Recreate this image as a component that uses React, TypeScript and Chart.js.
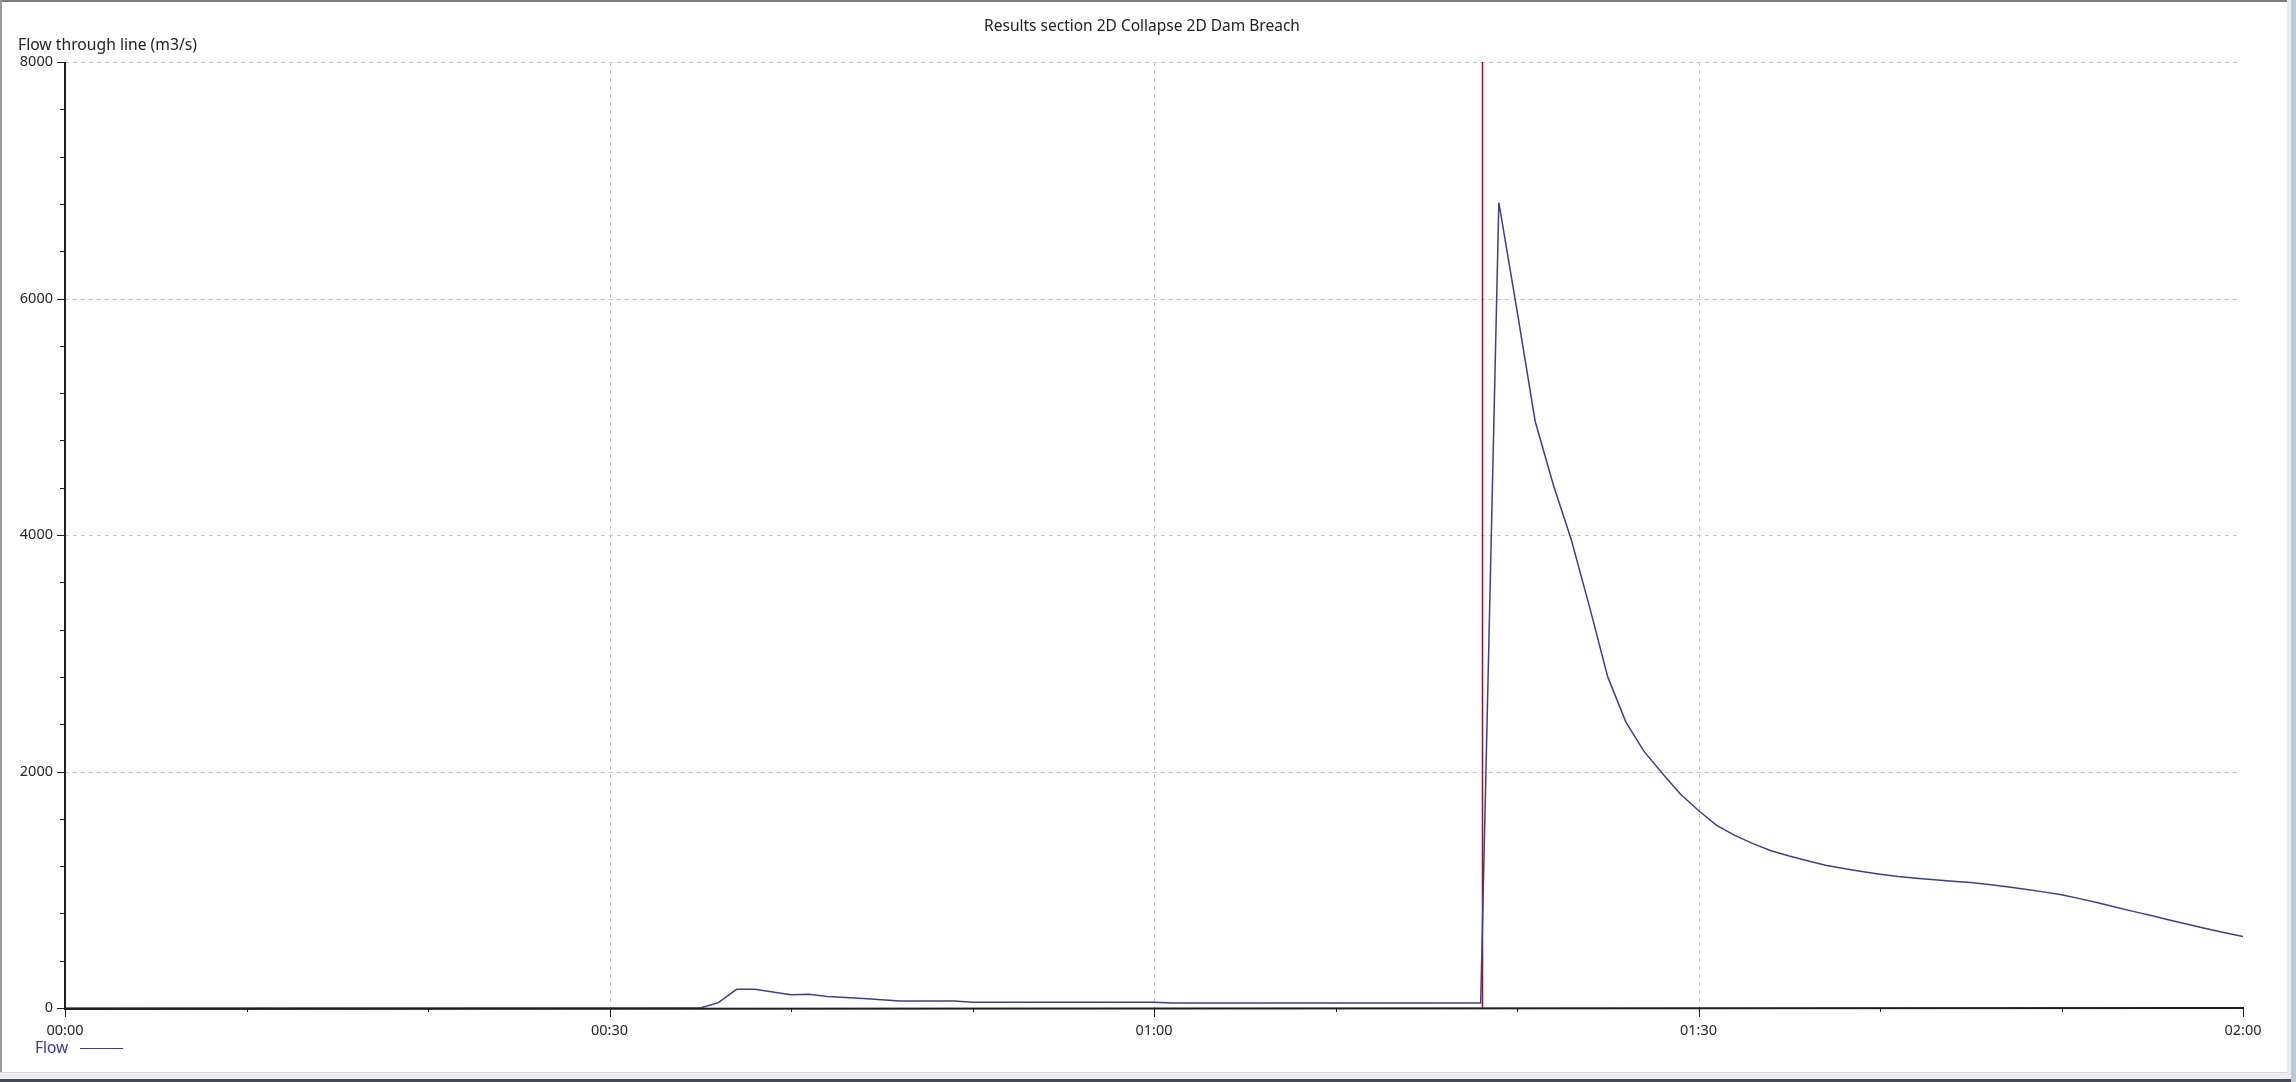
import React, { useEffect, useRef } from "react";
import { Chart, registerables } from "chart.js";

Chart.register(...registerables);

const TITLE = "Results section 2D Collapse 2D Dam Breach";
const Y_TITLE = "Flow through line (m3/s)";
const SERIES_NAME = "Flow";

// time in minutes since start
const timeMinutes = [
  0, 35, 36, 37, 38, 40, 41, 42, 44, 46, 49, 50, 60, 61, 78,
  79, 80, 81, 82, 83, 84, 85, 86, 87, 88, 89, 90,
  91, 92, 93, 94, 95, 96, 97, 98, 99, 100,
  101, 102, 103, 104, 105, 106, 107, 108, 109, 110,
  111, 112, 113, 114, 115, 116, 117, 118, 119, 120,
];
const flowValues = [
  0, 0, 45, 158, 158, 112, 116, 98, 80, 59, 59, 48, 48, 42, 42,
  6811, 5900, 4962, 4425, 3956, 3390, 2800, 2418, 2170, 1985, 1810, 1670,
  1545, 1460, 1390, 1330, 1285, 1245, 1208, 1180, 1155, 1132,
  1112, 1098, 1085, 1072, 1062, 1045, 1025, 1005, 982, 957,
  925, 890, 852, 815, 780, 742, 706, 670, 636, 604,
];
const markerTime = [78.1];

const yMajorTicks = [0, 2000, 4000, 6000, 8000];
const yMinorStep = 400;
const xMajorTicks = [0, 30, 60, 90, 120];
const xTickLabels = ["00:00", "00:30", "01:00", "01:30", "02:00"];
const xMinorStep = 10;

const X_MIN = 0;
const X_MAX = 120;
const Y_MIN = 0;
const Y_MAX = 8000;

const FONT = '"Noto Sans", "Open Sans", sans-serif';
const LINE_COLOR = "#40407f";
const MARKER_COLOR = "#841a35";

const overlayPlugin = {
  id: "overlay",
  beforeDatasetsDraw(chart: any) {
    const ctx = chart.ctx;
    const xs = chart.scales.x;
    const ys = chart.scales.y;
    const area = chart.chartArea;
    ctx.save();
    ctx.strokeStyle = "#c9c9c9";
    ctx.lineWidth = 1;
    ctx.setLineDash([4, 4]);
    yMajorTicks.forEach((v) => {
      if (v === Y_MIN) return;
      const y = Math.round(ys.getPixelForValue(v)) + 0.5;
      ctx.beginPath();
      ctx.moveTo(area.left, y);
      ctx.lineTo(area.right - 5, y);
      ctx.stroke();
    });
    xMajorTicks.forEach((v) => {
      if (v === X_MIN || v === X_MAX) return;
      const x = Math.round(xs.getPixelForValue(v)) + 0.5;
      ctx.beginPath();
      ctx.moveTo(x, area.top);
      ctx.lineTo(x, area.bottom);
      ctx.stroke();
    });
    ctx.restore();
  },
  afterDatasetsDraw(chart: any) {
    const ctx = chart.ctx;
    const xs = chart.scales.x;
    const ys = chart.scales.y;
    ctx.save();
    ctx.setLineDash([]);
    ctx.strokeStyle = "#1e1e1e";
    ctx.lineWidth = 2;
    // axes
    const x0 = Math.round(xs.getPixelForValue(X_MIN));
    const y0 = Math.round(ys.getPixelForValue(Y_MIN));
    ctx.beginPath();
    ctx.moveTo(x0, Math.round(ys.getPixelForValue(Y_MAX)));
    ctx.lineTo(x0, y0 + 1);
    ctx.lineTo(Math.round(xs.getPixelForValue(X_MAX)) + 1, y0);
    ctx.stroke();

    ctx.lineWidth = 1;
    // y ticks
    for (let v = Y_MIN; v <= Y_MAX; v += yMinorStep) {
      const major = yMajorTicks.includes(v);
      const y = Math.round(ys.getPixelForValue(v)) + 0.5;
      ctx.beginPath();
      ctx.moveTo(x0 - (major ? 8 : 5), y);
      ctx.lineTo(x0, y);
      ctx.stroke();
    }
    // x ticks
    for (let v = X_MIN; v <= X_MAX; v += xMinorStep) {
      const major = xMajorTicks.includes(v);
      const x = Math.round(xs.getPixelForValue(v)) + 0.5;
      ctx.beginPath();
      ctx.moveTo(x, y0);
      ctx.lineTo(x, y0 + (major ? 9 : 4));
      ctx.stroke();
    }

    // labels
    ctx.fillStyle = "#262626";
    ctx.font = `14.5px ${FONT}`;
    ctx.textBaseline = "middle";
    ctx.textAlign = "right";
    yMajorTicks.forEach((v) => {
      ctx.fillText(String(v), x0 - 12, ys.getPixelForValue(v));
    });
    ctx.textAlign = "center";
    xMajorTicks.forEach((v, i) => {
      ctx.fillText(xTickLabels[i], xs.getPixelForValue(v), y0 + 23);
    });

    // title
    ctx.font = `15.5px ${FONT}`;
    ctx.fillStyle = "#222";
    ctx.textAlign = "center";
    ctx.fillText(TITLE, 1142, 27);

    // y title
    ctx.font = `15.7px ${FONT}`;
    ctx.textAlign = "left";
    ctx.fillText(Y_TITLE, 18, 46);

    // legend
    ctx.fillStyle = "#3a3a86";
    ctx.font = `15.5px ${FONT}`;
    ctx.fillText(SERIES_NAME, 35, 1049);
    ctx.strokeStyle = LINE_COLOR;
    ctx.lineWidth = 1.2;
    ctx.beginPath();
    ctx.moveTo(80, 1048.5);
    ctx.lineTo(123, 1048.5);
    ctx.stroke();
    ctx.restore();
  },
};

export default function App() {
  const canvasRef = useRef<HTMLCanvasElement | null>(null);

  useEffect(() => {
    const canvas = canvasRef.current;
    if (!canvas) return;
    const chart = new Chart(canvas, {
      type: "line",
      data: {
        datasets: [
          {
            label: SERIES_NAME,
            data: timeMinutes.map((t, i) => ({ x: t, y: flowValues[i] })),
            borderColor: LINE_COLOR,
            borderWidth: 1.5,
            pointRadius: 0,
            tension: 0,
            fill: false,
          },
          {
            label: "Current time",
            data: [
              { x: markerTime[0], y: Y_MIN },
              { x: markerTime[0], y: Y_MAX },
            ],
            borderColor: MARKER_COLOR,
            borderWidth: 1.5,
            pointRadius: 0,
            fill: false,
          },
        ],
      },
      options: {
        responsive: false,
        devicePixelRatio: 1,
        animation: false,
        layout: { padding: { left: 65, right: 53, top: 62, bottom: 74 } },
        scales: {
          x: { type: "linear", min: X_MIN, max: X_MAX, display: false },
          y: { type: "linear", min: Y_MIN, max: Y_MAX, display: false },
        },
        plugins: {
          legend: { display: false },
          title: { display: false },
          tooltip: { enabled: false },
        },
      },
      plugins: [overlayPlugin],
    });
    return () => chart.destroy();
  }, []);

  return (
    <div
      style={{
        position: "fixed",
        left: 0,
        top: 0,
        width: 2296,
        height: 1082,
        background: "#ffffff",
        overflow: "hidden",
      }}
    >
      <canvas
        ref={canvasRef}
        width={2296}
        height={1082}
        style={{ position: "absolute", left: 0, top: 0, display: "block" }}
      />
      <div style={{ position: "absolute", left: 0, top: 0, width: 2288, height: 2, background: "#7c7c7c" }} />
      <div style={{ position: "absolute", left: 0, top: 0, width: 2, height: 1078, background: "#9a9a9a" }} />
      <div style={{ position: "absolute", left: 0, top: 1072, width: 2290, height: 7, background: "#efeff1", borderTop: "1px solid #d8d8dc" }} />
      <div style={{ position: "absolute", left: 0, top: 1079, width: 2296, height: 3, background: "#3e4c5c" }} />
      <div style={{ position: "absolute", left: 2287, top: 0, width: 4, height: 1079, background: "#ececf0" }} />
      <div style={{ position: "absolute", left: 2291, top: 0, width: 5, height: 1082, background: "#b9c9d8" }} />
    </div>
  );
}
